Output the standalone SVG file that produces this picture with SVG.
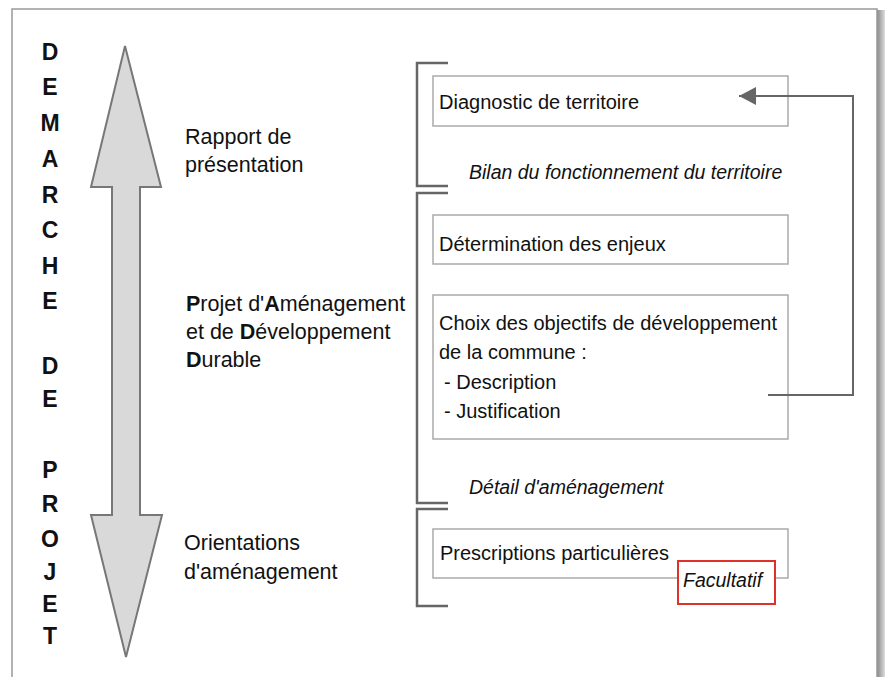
<svg xmlns="http://www.w3.org/2000/svg" width="885" height="677" viewBox="0 0 885 677">
<style>
.t{font-family:"Liberation Sans",Arial,sans-serif;fill:#111}
.lbl{font-size:21.5px}
.bx{font-size:20px}
.it{font-size:19.5px;font-style:italic}
.big{font-size:23px;font-weight:bold;text-anchor:middle}
.box{fill:#fff;stroke:#aaa;stroke-width:1.5}
.br{fill:none;stroke:#666;stroke-width:2.5}
.conn{fill:none;stroke:#666;stroke-width:2}
</style>
<defs>
<linearGradient id="sh" x1="0" y1="0" x2="1" y2="0">
<stop offset="0" stop-color="#888"/>
<stop offset="1" stop-color="#ddd"/>
</linearGradient>
<marker id="ah" markerWidth="17" markerHeight="18" refX="17" refY="9" orient="auto" markerUnits="userSpaceOnUse">
<path d="M0,0 L17,9 L0,18 Z" fill="#666"/>
</marker>
</defs>
<rect x="0" y="0" width="885" height="677" fill="#fff"/>
<rect x="877" y="10" width="8" height="667" fill="url(#sh)"/>
<path d="M12,677 V9 H877 V677" fill="none" stroke="#999" stroke-width="1.5"/>

<g id="vertical-title" class="t">
<text class="big" x="50" y="60">D</text>
<text class="big" x="50" y="95">E</text>
<text class="big" x="50" y="131">M</text>
<text class="big" x="50" y="167">A</text>
<text class="big" x="50" y="203">R</text>
<text class="big" x="50" y="238">C</text>
<text class="big" x="50" y="274">H</text>
<text class="big" x="50" y="309">E</text>
<text class="big" x="50" y="374">D</text>
<text class="big" x="50" y="407">E</text>
<text class="big" x="50" y="478">P</text>
<text class="big" x="50" y="512">R</text>
<text class="big" x="50" y="547">O</text>
<text class="big" x="50" y="580">J</text>
<text class="big" x="50" y="612">E</text>
<text class="big" x="50" y="644">T</text>
</g>

<g id="double-arrow">
<path d="M125,46 L161,187 L140,187 L140,515 L162,515 L126,657 L91,515 L112,515 L112,187 L91,187 Z" fill="#d9d9d9" stroke="#777" stroke-width="2" stroke-linejoin="miter"/>
</g>

<g id="label-rapport" class="t lbl">
<text x="185" y="144">Rapport de</text>
<text x="185" y="172">présentation</text>
</g>
<g id="label-padd" class="t lbl">
<text x="186" y="311"><tspan font-weight="bold">P</tspan>rojet d'<tspan font-weight="bold">A</tspan>ménagement</text>
<text x="186" y="339">et de <tspan font-weight="bold">D</tspan>éveloppement</text>
<text x="186" y="367"><tspan font-weight="bold">D</tspan>urable</text>
</g>
<g id="label-orientations" class="t lbl">
<text x="184" y="550">Orientations</text>
<text x="184" y="579">d'aménagement</text>
</g>

<g id="brackets">
<path class="br" d="M448,63 H417 V186 H448"/>
<path class="br" d="M448,193 H417 V503 H448"/>
<path class="br" d="M448,509 H417 V606 H448"/>
</g>

<g id="box-diagnostic">
<rect class="box" x="433" y="76" width="355" height="50"/>
<text class="t bx" x="439" y="109">Diagnostic de territoire</text>
</g>
<g id="label-bilan">
<text class="t it" x="469" y="179">Bilan du fonctionnement du territoire</text>
</g>
<g id="box-enjeux">
<rect class="box" x="433" y="215" width="355" height="49"/>
<text class="t bx" x="439" y="251">Détermination des enjeux</text>
</g>
<g id="box-objectifs">
<rect class="box" x="433" y="295" width="355" height="144"/>
<text class="t bx" x="439" y="330">Choix des objectifs de développement</text>
<text class="t bx" x="439" y="359">de la commune :</text>
<text class="t bx" x="444" y="389">- Description</text>
<text class="t bx" x="444" y="418">- Justification</text>
</g>
<g id="label-detail">
<text class="t it" x="469" y="494">Détail d'aménagement</text>
</g>
<g id="box-prescriptions">
<rect class="box" x="433" y="529" width="355" height="49"/>
<text class="t bx" x="440" y="560">Prescriptions particulières</text>
</g>
<g id="facultatif">
<rect x="678" y="561" width="97" height="43" fill="#fff" stroke="#e0302a" stroke-width="2"/>
<text class="t it" x="683" y="587">Facultatif</text>
</g>

<g id="connectors">
<path class="conn" d="M768,395 H853 V96 H739" marker-end="url(#ah)"/>
</g>
</svg>
